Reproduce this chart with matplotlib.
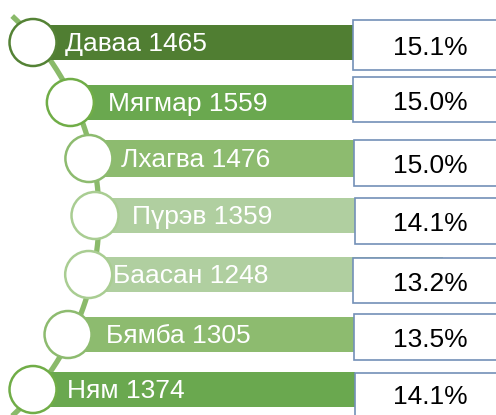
import matplotlib.pyplot as plt
from matplotlib.patches import Circle, Rectangle
import numpy as np

# данные
days = ['Даваа', 'Мягмар', 'Лхагва', 'Пүрэв', 'Баасан', 'Бямба', 'Ням']
counts = [1465, 1559, 1476, 1359, 1248, 1305, 1374]
shares = ['15.1%', '15.0%', '15.0%', '14.1%', '13.2%', '13.5%', '14.1%']

# оформление (пиксели)
y_c = [42.5, 102.5, 158.5, 215.5, 274.5, 334.5, 389.5]
bar_h = [35, 35, 37, 35, 35, 35, 35]
bar_right = [353, 353, 354, 355, 443, 354, 355]
label_dx = [32, 38, 32, 37, 24, 38, 34]
box_left = [353, 353, 354, 355, 353, 354, 355]
box_top = [20, 77, 140, 198, 258, 314, 373]
box_bot = [70, 122, 186, 244, 303, 360, 425]
bar_col = ['#507E32', '#6AA84F', '#8DBB6F', '#B0CFA0', '#B0CFA0', '#8DBB6F', '#6AA84F']
ring_col = ['#548235', '#70AD47', '#8DBB6F', '#A9CD92', '#A9CD92', '#8DBB6F', '#70AD47']

# дуга, на которой лежат кружки
arc_cx, arc_cy, arc_r = -178.8, 216, 273.8
x_c = [arc_cx + np.sqrt(arc_r**2 - (y - arc_cy)**2) for y in y_c]

plt.rcParams['font.family'] = ['Liberation Sans', 'DejaVu Sans']
fig = plt.figure(figsize=(4.96, 4.15), dpi=100)
ax = fig.add_axes([0, 0, 1, 1])
ax.set_xlim(0, 496)
ax.set_ylim(415, 0)
ax.axis('off')

yy = np.linspace(16, 420, 300)
ax.plot(arc_cx + np.sqrt(arc_r**2 - (yy - arc_cy)**2) + 4, yy, color='#8ABA6A', lw=3.8,
        solid_capstyle='butt', zorder=1)

for i in range(len(days)):
    ax.barh(y_c[i], bar_right[i] - x_c[i], height=bar_h[i], left=x_c[i],
            color=bar_col[i], zorder=2)
    ax.add_patch(Rectangle((box_left[i], box_top[i]), 200, box_bot[i] - box_top[i],
                           facecolor='white', edgecolor='#7390B8', lw=1.2, zorder=3))
    ax.add_patch(Circle((x_c[i], y_c[i]), 23.5, facecolor='white',
                        edgecolor=ring_col[i], lw=1.8, zorder=4))
    ax.text(x_c[i] + label_dx[i], y_c[i] + 1, f'{days[i]} {counts[i]}', color='white',
            fontsize=19, va='center', ha='left', zorder=5)
    ax.text(430, (box_top[i] + min(box_bot[i], 415)) / 2 + 3, shares[i], color='black',
            fontsize=19, va='center', ha='center', zorder=5)

plt.savefig('out.png', dpi=100)
